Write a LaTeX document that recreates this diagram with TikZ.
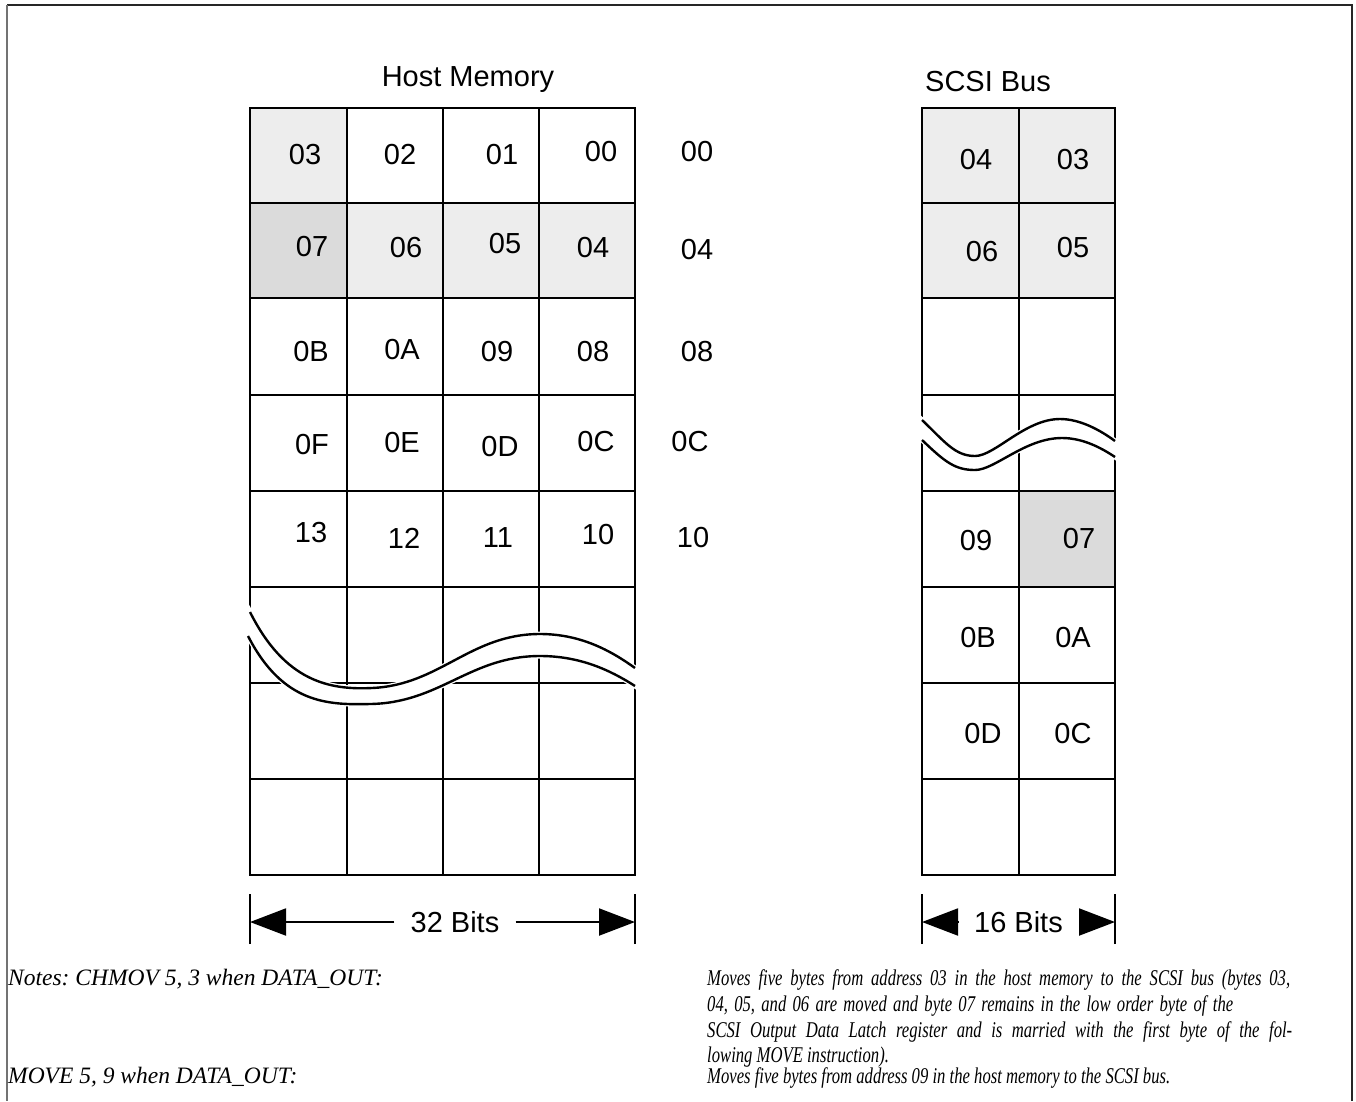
\documentclass[tikz,border=0pt]{standalone}
\usepackage{fontspec}
\setmainfont{Liberation Sans}
\newfontfamily\notefont{Liberation Serif}
\newfontfamily\narrownotefont[FakeStretch=0.74]{Liberation Serif}
\usetikzlibrary{arrows.meta}

\begin{document}
\begin{tikzpicture}[
    x=1pt, y=-1pt,
    gridline/.style={line width=2.4pt, line cap=rect},
    lightcell/.style={fill=black!7},
    darkcell/.style={fill=black!14},
    cutline/.style={line width=2.4pt},
    cutgap/.style={fill=white, draw=white, line width=5pt},
    num/.style={font=\fontsize{29}{29}\selectfont, inner sep=0pt},
    title/.style={font=\fontsize{29}{29}\selectfont, inner sep=0pt, anchor=base},
    dimlabel/.style={font=\fontsize{29}{29}\selectfont, inner ysep=0pt, inner xsep=16pt},
    note/.style={font=\frenchspacing\notefont\itshape\fontsize{23.5}{23.5}\selectfont, inner sep=0pt, anchor=base west},
    notetext/.style={font=\frenchspacing\narrownotefont\itshape\fontsize{22.5}{22.5}\selectfont, inner sep=0pt, anchor=base west},
    tick/.style={line width=2.6pt},
    dimarrow/.style={line width=2pt, -{Triangle[length=36pt, width=27pt]}}
]
\useasboundingbox (0,0) rectangle (1356,1101);

% Frame
\draw[black!85, line width=1.5pt] (1352,1101) -- (1352,5) -- (7,5);
\draw[black!55, line width=1.5pt] (7,5) -- (7,1101);

% Titles
\node[title] (hosttitle) at (468,86) {Host Memory};
\node[title] (scsititle) at (988,91) {SCSI Bus};

% Shaded cells, host memory
\fill[lightcell] (250,108) rectangle (347,203);
\fill[darkcell] (250,203) rectangle (347,298);
\fill[lightcell] (347,203) rectangle (635,298);

% Shaded cells, SCSI bus
\fill[lightcell] (922,108) rectangle (1115,298);
\fill[darkcell] (1019,491) rectangle (1115,587);

% Grid lines
\foreach \x in {250,347,443,539,635}
  \draw[gridline] (\x,108) -- (\x,875);
\foreach \y in {108,203,298,395,491,587,683,779,875}
  \draw[gridline] (250,\y) -- (635,\y);
\foreach \x in {922,1019,1115}
  \draw[gridline] (\x,108) -- (\x,875);
\foreach \y in {108,203,298,395,491,587,683,779,875}
  \draw[gridline] (922,\y) -- (1115,\y);

% Break, host memory
\path[cutgap] (250,612) .. controls (285,682) and (330,690) .. (372,688)
  .. controls (440,685) and (470,634) .. (540,634)
  .. controls (580,634) and (610,650) .. (635,668) -- (635,686)
  .. controls (610,670) and (580,656) .. (540,656)
  .. controls (470,656) and (440,703) .. (370,704)
  .. controls (328,705) and (283,704) .. (248,636) -- cycle;
\draw[cutline] (250,612) .. controls (285,682) and (330,690) .. (372,688)
  .. controls (440,685) and (470,634) .. (540,634)
  .. controls (580,634) and (610,650) .. (635,668);
\draw[cutline] (248,636) .. controls (283,704) and (328,705) .. (370,704)
  .. controls (440,703) and (470,656) .. (540,656)
  .. controls (580,656) and (610,670) .. (635,686);

% Break, SCSI bus
\path[cutgap] (922,420) .. controls (945,442) and (955,456) .. (975,456)
  .. controls (995,456) and (1025,419) .. (1060,419)
  .. controls (1080,419) and (1100,430) .. (1115,441) -- (1115,457)
  .. controls (1100,447) and (1082,438) .. (1062,438)
  .. controls (1025,438) and (995,470) .. (975,470)
  .. controls (955,470) and (945,462) .. (922,440) -- cycle;
\draw[cutline] (922,420) .. controls (945,442) and (955,456) .. (975,456)
  .. controls (995,456) and (1025,419) .. (1060,419)
  .. controls (1080,419) and (1100,430) .. (1115,441);
\draw[cutline] (922,440) .. controls (945,462) and (955,470) .. (975,470)
  .. controls (995,470) and (1025,438) .. (1062,438)
  .. controls (1082,438) and (1100,447) .. (1115,457);

% Host memory bytes
\node[num] (h03) at (305,155) {03};
\node[num] (h02) at (400,155) {02};
\node[num] (h01) at (502,155) {01};
\node[num] (h00) at (601,152) {00};
\node[num] (h07) at (312,247) {07};
\node[num] (h06) at (406,248) {06};
\node[num] (h05) at (505,244) {05};
\node[num] (h04) at (593,248) {04};
\node[num] (h0B) at (311,352) {0B};
\node[num] (h0A) at (402,350) {0A};
\node[num] (h09) at (497,352) {09};
\node[num] (h08) at (593,352) {08};
\node[num] (h0F) at (312,445) {0F};
\node[num] (h0E) at (402,443) {0E};
\node[num] (h0D) at (500,447) {0D};
\node[num] (h0C) at (596,442) {0C};
\node[num] (h13) at (311,533) {13};
\node[num] (h12) at (404,538) {12};
\node[num] (h11) at (498,538) {11};
\node[num] (h10) at (598,535) {10};

% Addresses
\node[num] (a00) at (697,152) {00};
\node[num] (a04) at (697,250) {04};
\node[num] (a08) at (697,352) {08};
\node[num] (a0C) at (690,442) {0C};
\node[num] (a10) at (693,538) {10};

% SCSI bus bytes
\node[num] (s04) at (976,160) {04};
\node[num] (s03) at (1073,160) {03};
\node[num] (s06) at (982,252) {06};
\node[num] (s05) at (1073,248) {05};
\node[num] (s09) at (976,541) {09};
\node[num] (s07) at (1079,539) {07};
\node[num] (s0B) at (978,638) {0B};
\node[num] (s0A) at (1073,638) {0A};
\node[num] (s0D) at (983,734) {0D};
\node[num] (s0C) at (1073,734) {0C};

% Widths
\coordinate (h left) at (250,922);
\coordinate (h right) at (635,922);
\coordinate (s left) at (922,922);
\coordinate (s right) at (1115,922);
\draw[tick] ([yshift=-22pt]h left) -- ([yshift=28pt]h left);
\draw[tick] ([yshift=-22pt]h right) -- ([yshift=28pt]h right);
\draw[tick] ([yshift=-22pt]s left) -- ([yshift=28pt]s left);
\draw[tick] ([yshift=-22pt]s right) -- ([yshift=28pt]s right);
\node[dimlabel] (bits32) at (455,922) {32 Bits};
\node[dimlabel, inner xsep=16.1pt] (bits16) at (1018.5,922) {16 Bits};
\draw[dimarrow] (bits32.west) -- (h left);
\draw[dimarrow] (bits32.east) -- (h right);
\draw[dimarrow] (bits16.west) -- (s left);
\draw[dimarrow] (bits16.east) -- (s right);

% Notes
\node[note] (n1) at (8,985) {Notes: CHMOV 5, 3 when DATA\_OUT:};
\node[notetext] (d1) at (707,985) {\makebox[583pt][s]{Moves five bytes from address 03 in the host memory to the SCSI bus (bytes 03,}};
\node[notetext] (d2) at (707,1011) {\makebox[526pt][s]{04, 05, and 06 are moved and byte 07 remains in the low order byte of the}};
\node[notetext] (d3) at (707,1037) {\makebox[585pt][s]{SCSI Output Data Latch register and is married with the first byte of the fol-}};
\node[notetext] (d4) at (707,1062) {lowing MOVE instruction).};
\node[note] (n2) at (8,1083) {MOVE 5, 9 when DATA\_OUT:};
\node[notetext] (d5) at (707,1083) {Moves five bytes from address 09 in the host memory to the SCSI bus.};

\end{tikzpicture}
\end{document}
